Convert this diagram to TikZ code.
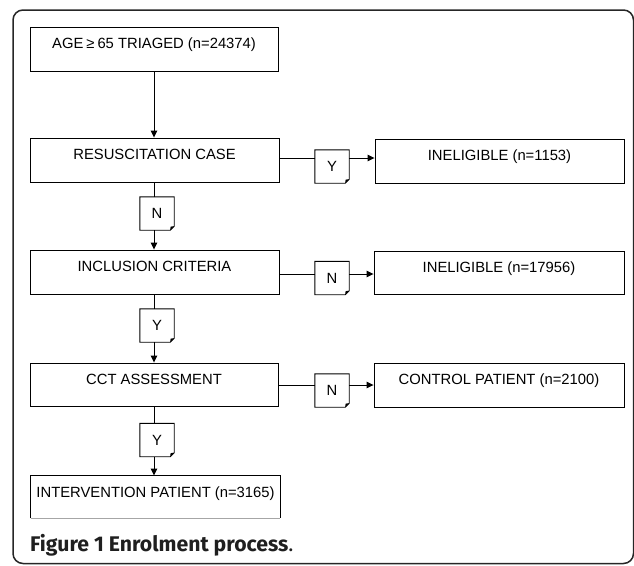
\documentclass[tikz,border=0pt]{standalone}
\usepackage{fontspec}
\setmainfont{Liberation Sans}
\newfontfamily\capfont{Fira Sans}
\usetikzlibrary{arrows.meta}
\tikzset{
  box/.style={draw=black, line width=0.9pt, inner xsep=0pt, inner ysep=0pt,
    text height=21.25pt, text depth=22.75pt, minimum width=249pt,
    font=\fontsize{14.8}{17}\selectfont},
  tagbox/.style={draw=none, inner sep=0pt, minimum width=34pt, minimum height=33pt,
    font=\fontsize{14.8}{17}\selectfont},
  conn/.style={line width=0.9pt, black},
  arr/.style={conn, -{Triangle[length=7pt,width=6.5pt]}},
}
\newcommand{\dogear}[1]{%
  \draw[conn] (#1.north west) -- (#1.north east) -- ([yshift=4pt]#1.south east)
    -- ([xshift=-4pt]#1.south east) -- (#1.south west) -- cycle;
  \fill[black] ([yshift=4pt]#1.south east) -- ([xshift=-4pt]#1.south east)
    -- ([xshift=-3.6pt,yshift=3.6pt]#1.south east) -- cycle;}
\begin{document}
\begin{tikzpicture}[x=1pt,y=-1pt]
\useasboundingbox (0,0) rectangle (634,565);
\begin{scope}
\clip (0,0) rectangle (634,565);
\draw[line width=1.5pt, black!85, rounded corners=10pt] (13,10) rectangle (633.5,563.5);
\end{scope}
% main column
\node[box, minimum width=248pt] (b1) at (154,49) {AGE\hspace{3pt}≥\hspace{3pt}65 TRIAGED (n=24374)};
\node[box] (b2) at (154.5,160) {RESUSCITATION CASE};
\node[box] (b3) at (154.5,272) {INCLUSION CRITERIA};
\node[box, minimum width=248pt, text depth=21.75pt] (b4) at (154,384.5) {CCT ASSESSMENT};
\node[box, draw=none, text depth=20.75pt] (b5) at (155.5,497) {INTERVENTION PATIENT (n=3165)};
\draw[conn] (b5.south west) -- (b5.north west) -- (b5.north east) -- (b5.south east);
\draw[line width=0.9pt, black!35] (b5.south west) -- (b5.south east);
% right column
\node[box] (r1) at (499.5,161) {INELIGIBLE (n=1153)};
\node[box, minimum width=250pt, text depth=21.75pt] (r2) at (499,272.5) {INELIGIBLE (n=17956)};
\node[box, minimum width=250pt] (r3) at (499,385) {CONTROL PATIENT (n=2100)};
% tag boxes
\node[tagbox] (v1) at (157,213.5) {N};
\node[tagbox] (v2) at (157,325.5) {Y};
\node[tagbox] (v3) at (157,440) {Y};
\node[tagbox] (h1) at (332,166.5) {Y};
\node[tagbox] (h2) at (332,278) {N};
\node[tagbox] (h3) at (332,390.5) {N};
\foreach \t in {v1,v2,v3,h1,h2,h3}{\dogear{\t}}
% vertical connectors
\draw[arr] (b1.south) -- (b1.south |- b2.north);
\draw[conn] (b1.south |- b2.south) -- (b1.south |- v1.north);
\draw[arr] (b1.south |- v1.south) -- (b1.south |- b3.north);
\draw[conn] (b1.south |- b3.south) -- (b1.south |- v2.north);
\draw[arr] (b1.south |- v2.south) -- (b1.south |- b4.north);
\draw[conn] (b1.south |- b4.south) -- (b1.south |- v3.north);
\draw[arr] (b1.south |- v3.south) -- (b1.south |- b5.north);
% horizontal connectors
\coordinate (y1) at (0,158);
\coordinate (y2) at (0,274);
\coordinate (y3) at (0,385);
\draw[conn] (b2.east |- y1) -- (h1.west |- y1);
\draw[arr] (h1.east |- y1) -- (r1.west |- y1);
\draw[conn] (b3.east |- y2) -- (h2.west |- y2);
\draw[arr] (h2.east |- y2) -- (r2.west |- y2);
\draw[conn] (b4.east |- y3) -- (h3.west |- y3);
\draw[arr] (h3.east |- y3) -- (r3.west |- y3);
% caption
\node[anchor=base west, inner sep=0pt, text=black!88, font=\capfont\fontsize{21.2}{24}\selectfont] (cap)
  at (30,551) {\textbf{Figure 1 Enrolment process}.};
\end{tikzpicture}
\end{document}
